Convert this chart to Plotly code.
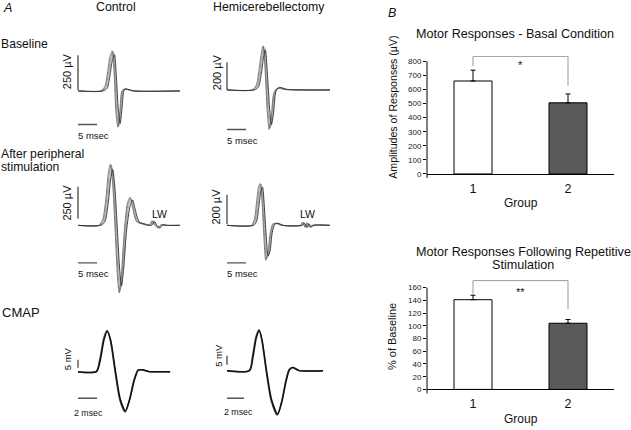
import plotly.graph_objects as go

# ---------------- data ----------------
# Panel A - overlaid sweeps. time in ms, amplitude in µV (CMAP in mV)
ctrl_base_t = [
    [0, 6.2, 7.3, 8.0, 8.6, 9.2, 9.7, 10.2, 10.7, 11.2, 11.8, 12.6, 14.5, 26.8],
    [0, 6.4, 7.5, 8.2, 8.8, 9.4, 9.9, 10.4, 10.9, 11.4, 12.0, 12.8, 14.7, 26.8],
    [0, 6.0, 7.1, 7.8, 8.4, 9.0, 9.5, 10.0, 10.5, 11.0, 11.6, 12.4, 14.3, 26.8],
    [0, 6.6, 7.7, 8.4, 9.0, 9.6, 10.1, 10.6, 11.1, 11.6, 12.2, 13.0, 14.9, 26.8],
]
ctrl_base_v = [
    [0, 0, 30, 130, 235, 285, 120, -150, -255, -140, 5, 14, 0, 0],
    [0, 0, 25, 120, 225, 275, 110, -140, -245, -130, 8, 12, 0, 0],
    [0, 0, 35, 140, 245, 290, 130, -160, -262, -150, 2, 15, 0, 0],
    [0, 0, 20, 110, 215, 262, 100, -130, -235, -120, 10, 12, 0, 0],
]
hemi_base_t = [
    [0, 6.8, 7.9, 8.6, 9.2, 9.7, 10.2, 10.8, 11.3, 11.8, 12.5, 13.4, 15.5, 27.1],
    [0, 7.0, 8.1, 8.8, 9.4, 9.9, 10.4, 11.0, 11.5, 12.0, 12.7, 13.6, 15.7, 27.1],
    [0, 6.6, 7.7, 8.4, 9.0, 9.5, 10.0, 10.6, 11.1, 11.6, 12.3, 13.2, 15.3, 27.1],
    [0, 7.2, 8.3, 9.0, 9.6, 10.1, 10.6, 11.2, 11.7, 12.2, 12.9, 13.8, 15.9, 27.1],
]
hemi_base_v = [
    [0, 0, 30, 130, 250, 310, 150, -150, -275, -200, -20, 14, 3, 0],
    [0, 0, 25, 120, 240, 300, 140, -140, -265, -190, -15, 16, 3, 0],
    [0, 0, 35, 140, 260, 318, 160, -160, -285, -210, -25, 12, 3, 0],
    [0, 0, 22, 110, 230, 290, 130, -130, -250, -180, -10, 18, 4, 0],
]
ctrl_after_t = [
    [0, 5.6, 6.7, 7.6, 8.2, 8.75, 9.3, 10.0, 10.6, 11.05, 11.6, 12.4, 13.2, 13.9, 14.6, 15.6, 17.5, 19.0, 19.7, 20.4, 21.2, 22.0, 23.0, 26.8],
    [0, 5.8, 6.9, 7.8, 8.4, 8.95, 9.5, 10.2, 10.8, 11.25, 11.8, 12.6, 13.4, 14.1, 14.8, 15.8, 17.7, 19.2, 19.9, 20.6, 21.4, 22.2, 23.2, 26.8],
    [0, 5.4, 6.5, 7.4, 8.0, 8.55, 9.1, 9.8, 10.4, 10.85, 11.4, 12.2, 13.0, 13.7, 14.4, 15.4, 17.3, 18.8, 19.5, 20.2, 21.0, 21.8, 22.8, 26.8],
    [0, 6.0, 7.1, 8.0, 8.6, 9.15, 9.7, 10.4, 11.0, 11.45, 12.0, 12.8, 13.7, 14.4, 15.1, 16.1, 18.0, 19.4, 20.1, 20.8, 21.6, 22.4, 23.4, 26.8],
]
ctrl_after_v = [
    [0, 0, 40, 220, 400, 475, 330, -60, -400, -520, -380, -40, 170, 215, 130, 30, 8, 0, 35, 0, -20, 5, 0, 0],
    [0, 0, 35, 200, 380, 455, 310, -60, -380, -495, -360, -40, 160, 205, 125, 30, 8, 0, 30, 0, -22, 5, 0, 0],
    [0, 0, 45, 230, 415, 485, 340, -60, -410, -535, -390, -40, 175, 222, 135, 30, 8, 0, 38, 0, -18, 5, 0, 0],
    [0, 0, 30, 190, 365, 440, 300, -55, -365, -480, -350, -35, 150, 200, 120, 28, 8, 0, 32, 0, -20, 5, 0, 0],
]
hemi_after_t = [
    [0, 6.6, 7.4, 8.0, 8.5, 8.95, 9.4, 9.9, 10.4, 10.9, 11.5, 12.2, 13.0, 14.5, 19.4, 20.0, 20.6, 21.2, 21.8, 22.5, 27.1],
    [0, 6.8, 7.6, 8.2, 8.7, 9.15, 9.6, 10.1, 10.6, 11.1, 11.7, 12.4, 13.2, 14.7, 19.6, 20.2, 20.8, 21.4, 22.0, 22.7, 27.1],
    [0, 6.4, 7.2, 7.8, 8.3, 8.75, 9.2, 9.7, 10.2, 10.7, 11.3, 12.0, 12.8, 14.3, 19.3, 19.9, 20.5, 21.1, 21.7, 22.4, 27.1],
    [0, 7.0, 7.8, 8.4, 8.9, 9.35, 9.8, 10.3, 10.8, 11.3, 11.9, 12.6, 13.4, 14.9, 19.8, 20.4, 21.0, 21.6, 22.2, 22.9, 27.1],
]
hemi_after_v = [
    [0, 0, 35, 150, 250, 275, 160, -70, -225, -195, -60, 8, 14, 0, 0, 20, -12, 15, -15, 0, 0],
    [0, 0, 30, 140, 240, 265, 150, -70, -215, -185, -55, 8, 14, 0, 0, 18, -15, 12, -12, 0, 0],
    [0, 0, 40, 160, 260, 282, 170, -75, -235, -200, -65, 8, 14, 0, 0, 22, -10, 18, -10, 0, 0],
    [0, 0, 28, 130, 230, 258, 140, -65, -205, -178, -50, 8, 14, 0, 0, 15, -15, 10, -12, 0, 0],
]
ctrl_cmap_t = [
    [0, 1.9, 2.3, 2.7, 3.05, 3.4, 3.9, 4.4, 4.95, 5.4, 5.9, 6.3, 6.7, 7.5, 9.7],
    [0, 1.95, 2.35, 2.75, 3.1, 3.45, 3.95, 4.45, 5.0, 5.45, 5.95, 6.35, 6.75, 7.5, 9.7],
]
ctrl_cmap_v = [
    [0, 0, 8, 21, 26, 20, 0, -18, -25.5, -18, -5, 1, 1.2, 0, 0],
    [0, 0, 7.5, 20.5, 25.5, 19.5, 0, -17.5, -25, -17.5, -5, 1, 1.2, 0, 0],
]
hemi_cmap_t = [
    [0, 2.6, 3.0, 3.4, 3.76, 4.1, 4.6, 5.2, 5.9, 6.4, 6.9, 7.3, 7.7, 8.5, 11.3],
    [0, 2.65, 3.05, 3.45, 3.8, 4.15, 4.65, 5.25, 5.95, 6.45, 6.95, 7.35, 7.75, 8.5, 11.3],
]
hemi_cmap_v = [
    [0, 0, 8, 19, 23, 17, 0, -17, -25, -18, -6, 0.5, 1.7, 0, 0],
    [0, 0, 7.5, 18.5, 22.5, 16.5, 0, -16.5, -24.5, -17.5, -6, 0.5, 1.7, 0, 0],
]
# scale bar values (amplitude, time) and labels
scale_amp = [250, 200, 250, 200, 5, 5]
scale_time = [5, 5, 5, 5, 2, 2]
scale_amp_labels = ["250 µV", "200 µV", "250 µV", "200 µV", "5 mV", "5 mV"]
scale_time_labels = ["5 msec", "5 msec", "5 msec", "5 msec", "2 msec", "2 msec"]

# Panel B - bar charts
groups = ["1", "2"]
group_pos = [1, 2]
basal_amp = [660, 505]
basal_err = [77, 63]
repet_pct = [141, 104]
repet_err = [7, 6]
basal_ticks = [0, 100, 200, 300, 400, 500, 600, 700, 800]
repet_ticks = [0, 20, 40, 60, 80, 100, 120, 140, 160]

# ---------------- layout helpers ----------------
W, H = 631, 430
FONT = "Liberation Sans, Arial, sans-serif"


def pxx(x):
    return x / W


def pxy(y):
    return 1 - y / H


fig = go.Figure()
layout = {}
shapes = []
annotations = []


def ann(text, x, y, size, xanchor="center", angle=0, italic=False, color="#111"):
    annotations.append(dict(
        text=f"<i>{text}</i>" if italic else text, x=pxx(x), y=pxy(y),
        xref="paper", yref="paper", showarrow=False, xanchor=xanchor,
        yanchor="middle", textangle=angle,
        font=dict(family=FONT, size=size, color=color)))


# geometry per trace panel: origin px (x0, y0), px per ms, px per unit amplitude,
# clip box (left, right, top, bottom), vertical bar bottom offset (px),
# horizontal bar offset below baseline (px), line width
geom = [
    dict(x0=78, y0=92, sx=3.8, sy=0.14, box=(68, 192, 40, 145), vb=1, hb=34, lw=0.9),
    dict(x0=227, y0=91, sx=3.8, sy=0.14, box=(217, 342, 40, 145), vb=0, hb=40, lw=0.9),
    dict(x0=78, y0=228, sx=3.8, sy=0.128, box=(68, 192, 160, 305), vb=7, hb=38, lw=0.9),
    dict(x0=227, y0=228, sx=3.8, sy=0.15, box=(217, 342, 160, 305), vb=1, hb=38, lw=0.9),
    dict(x0=78, y0=376, sx=9.5, sy=1.6, box=(68, 192, 325, 428), vb=4, hb=27, lw=1.5),
    dict(x0=227, y0=375, sx=8.5, sy=1.8, box=(217, 342, 325, 428), vb=6, hb=28, lw=1.5),
]
sweeps = [(ctrl_base_t, ctrl_base_v), (hemi_base_t, hemi_base_v),
          (ctrl_after_t, ctrl_after_v), (hemi_after_t, hemi_after_v),
          (ctrl_cmap_t, ctrl_cmap_v), (hemi_cmap_t, hemi_cmap_v)]
sweep_colors = ["#8c8c8c", "#a8a8a8", "#6a6a6a", "#2e2e2e"]
bar_color = "#555555"

for i, (g, (ts, vs)) in enumerate(zip(geom, sweeps), start=1):
    xa, ya = f"x{i}", f"y{i}"
    l, r, t, b = g["box"]
    layout[f"xaxis{i}"] = dict(domain=[pxx(l), pxx(r)], visible=False, fixedrange=True,
                               range=[(l - g["x0"]) / g["sx"], (r - g["x0"]) / g["sx"]],
                               anchor=ya)
    layout[f"yaxis{i}"] = dict(domain=[pxy(b), pxy(t)], visible=False, fixedrange=True,
                               range=[(g["y0"] - b) / g["sy"], (g["y0"] - t) / g["sy"]],
                               anchor=xa)
    n = len(ts)
    for k, (tt, vv) in enumerate(zip(ts, vs)):
        col = sweep_colors[k] if n > 2 else ("#555555" if k == 0 else "#111111")
        fig.add_trace(go.Scatter(x=tt, y=vv, mode="lines", xaxis=xa, yaxis=ya,
                                 line=dict(color=col, width=g["lw"], shape="spline", smoothing=0.7),
                                 hoverinfo="skip", showlegend=False))
    # scale bars
    vb0 = g["vb"] / g["sy"]
    fig.add_trace(go.Scatter(x=[0, 0], y=[vb0, vb0 + scale_amp[i - 1]], mode="lines",
                             xaxis=xa, yaxis=ya, line=dict(color=bar_color, width=1.4),
                             hoverinfo="skip", showlegend=False))
    hy = -g["hb"] / g["sy"]
    fig.add_trace(go.Scatter(x=[0, scale_time[i - 1]], y=[hy, hy], mode="lines",
                             xaxis=xa, yaxis=ya, line=dict(color=bar_color, width=1.4),
                             hoverinfo="skip", showlegend=False))

# scale-bar labels (pixel positions)
amp_lab_pos = [(67, 72), (217, 73), (67, 205), (216, 209), (67.5, 363), (219, 360)]
time_lab_pos = [(93, 137), (242.5, 142), (93, 277), (242.5, 277), (88, 418), (238.5, 417)]
for i in range(6):
    ann(scale_amp_labels[i], *amp_lab_pos[i], 11 if i < 4 else 9.5, angle=-90)
    ann(scale_time_labels[i], *time_lab_pos[i], 9.5 if i < 4 else 8.8)
ann("LW", 159, 217, 10.5)
ann("LW", 307, 217, 10.5)

# Panel A headers
ann("A", 1, 8, 12.5, xanchor="left", italic=True)
ann("Control", 116, 7, 12.3)
ann("Hemicerebellectomy", 269, 7, 12.3)
ann("Baseline", -1, 44.5, 12.2, xanchor="left")
ann("After peripheral", -1, 155.5, 12.2, xanchor="left")
ann("stimulation", -1, 168.5, 12.2, xanchor="left")
ann("CMAP", 0, 316, 13, xanchor="left")

# ---------------- Panel B bar charts ----------------
B_LEFT, B_RIGHT = 427, 614
C1, C2 = 473, 568
unit = C2 - C1
xrange_b = [1 - (C1 - B_LEFT) / unit, 2 + (B_RIGHT - C2) / unit]

bars = [
    dict(vals=basal_amp, err=basal_err, ticks=basal_ticks, y0=176, ytop=62, top=840,
         bracket=(835, 765, 625), star="*", star_y=772, ai=7),
    dict(vals=repet_pct, err=repet_err, ticks=repet_ticks, y0=394, ytop=291, top=172,
         bracket=(171, 149, 126), star="**", star_y=153, ai=8),
]
for bd in bars:
    i = bd["ai"]
    xa, ya = f"x{i}", f"y{i}"
    ppu = (bd["y0"] - bd["ytop"]) / bd["ticks"][-1]
    top_px = bd["y0"] - bd["top"] * ppu
    layout[f"xaxis{i}"] = dict(domain=[pxx(B_LEFT), pxx(B_RIGHT)], range=xrange_b,
                               anchor=ya, showline=True, linecolor="black", linewidth=1,
                               ticks="", tickvals=group_pos, ticktext=groups,
                               ticklabelstandoff=3,
                               tickfont=dict(family=FONT, size=12.5, color="#111"),
                               showgrid=False, zeroline=False, fixedrange=True)
    layout[f"yaxis{i}"] = dict(domain=[pxy(bd["y0"]), pxy(top_px)], range=[0, bd["top"]],
                               anchor=xa, showline=False, ticks="outside", ticklen=3,
                               tickcolor="black", tickwidth=1, tickvals=bd["ticks"],
                               tickfont=dict(family=FONT, size=8, color="#222"),
                               showgrid=False, zeroline=False, fixedrange=True)
    fig.add_trace(go.Bar(x=group_pos, y=bd["vals"], xaxis=xa, yaxis=ya, width=0.4,
                         marker=dict(color=["white", "#5a5a5a"], line=dict(color="black", width=1)),
                         error_y=dict(type="data", symmetric=False, array=bd["err"],
                                      arrayminus=[0, 0], color="black", thickness=1, width=2.5),
                         hoverinfo="skip", showlegend=False))
    # y-axis line (0 .. last tick, slightly below the x-axis)
    shapes.append(dict(type="line", xref="paper", yref="paper", x0=pxx(B_LEFT), x1=pxx(B_LEFT),
                       y0=pxy(bd["y0"] + 4), y1=pxy(bd["ytop"]),
                       line=dict(color="black", width=1)))
    by, bl, br = bd["bracket"]
    for (xx0, yy0, xx1, yy1) in [(1, bl, 1, by), (1, by, 2, by), (2, by, 2, br)]:
        shapes.append(dict(type="line", xref=xa, yref=ya, x0=xx0, y0=yy0, x1=xx1, y1=yy1,
                           line=dict(color="#999999", width=1)))
    annotations.append(dict(text=bd["star"], x=1.5, y=bd["star_y"], xref=xa, yref=ya,
                            showarrow=False, font=dict(family=FONT, size=11, color="#111")))

ann("B", 386, 13, 12.5, xanchor="left", italic=True)
ann("Motor Responses - Basal Condition", 515, 34, 12.6)
ann("Amplitudes of Responses (µV)", 393, 108, 10.6, angle=-90)
ann("Group", 521, 205, 12)
ann("Motor Responses Following Repetitive", 523, 255, 12.6)
ann("Stimulation", 523, 268.5, 12.6)
ann("% of Baseline", 392, 341, 11, angle=-90)
ann("Group", 521, 423.5, 12)

fig.update_layout(width=W, height=H, margin=dict(l=0, r=0, t=0, b=0),
                  paper_bgcolor="white", plot_bgcolor="white",
                  shapes=shapes, annotations=annotations, bargap=0,
                  font=dict(family=FONT), **layout)
fig.write_html("out.html", config={"displayModeBar": False, "staticPlot": True},
               post_script="document.body.style.margin='0px';document.body.style.overflow='hidden';")
